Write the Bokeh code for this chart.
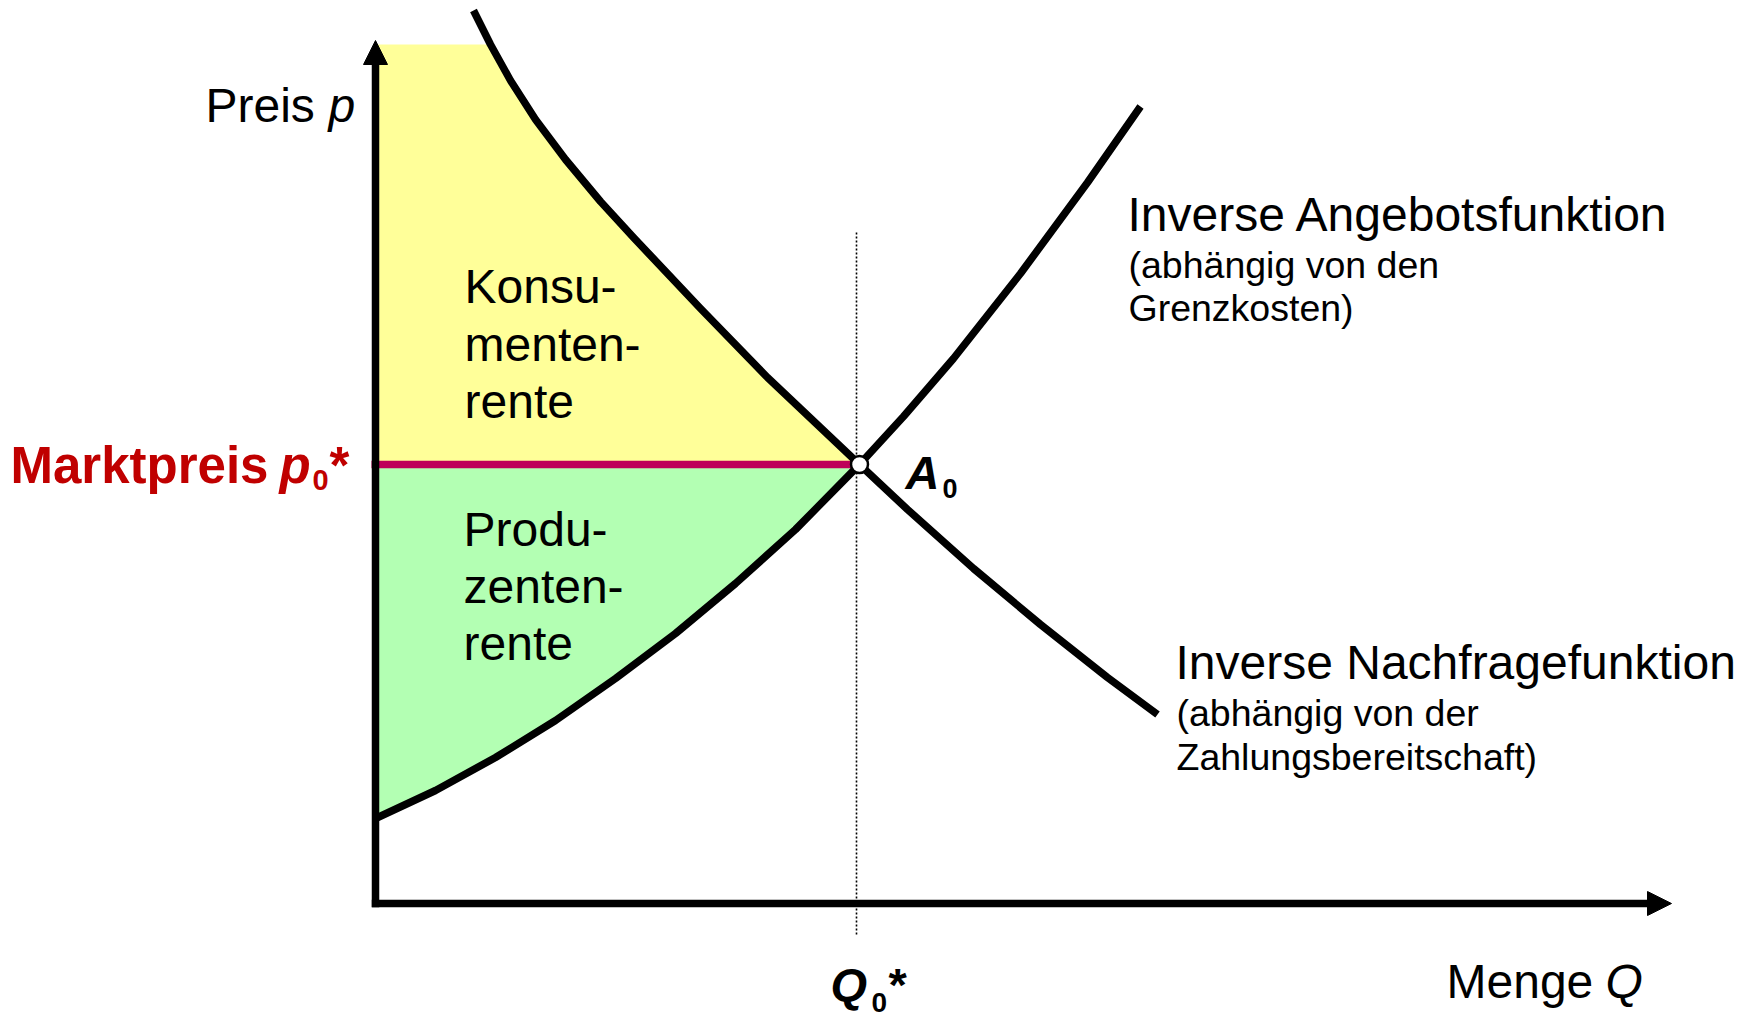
import numpy as np
from bokeh.plotting import figure
from bokeh.models import Label, Arrow, NormalHead
from bokeh.embed import file_html
from bokeh.resources import INLINE

# ---- data (Q = Menge, p = Preis) ----
demand_q = [0.98, 1.15, 1.35, 1.60, 1.90, 2.25, 2.58, 3.25, 3.92, 4.84, 5.32, 5.98, 6.65, 7.32, 7.82]
demand_p = [8.93, 8.59, 8.23, 7.84, 7.44, 7.02, 6.66, 5.95, 5.26, 4.39, 3.94, 3.35, 2.79, 2.26, 1.89]
supply_q = [0.00, 0.60, 1.20, 1.80, 2.40, 3.00, 3.60, 4.20, 4.84, 5.28, 5.78, 6.45, 7.12, 7.65]
supply_p = [0.85, 1.13, 1.46, 1.83, 2.25, 2.70, 3.20, 3.74, 4.39, 4.87, 5.45, 6.30, 7.21, 7.97]
eq_q = 4.84          # Q0*
eq_p = 4.39          # p0*
fill_top = 8.59      # top of consumer surplus area
axis_q_end = 12.96
axis_p_end = 8.63
dotted_top = 6.73
dotted_bottom = -0.31

FONT = "Liberation Sans"

fig = figure(width=1758, height=1017, x_range=(-3.75, 13.83), y_range=(-1.14, 9.03),
             output_backend="svg", toolbar_location=None, min_border=0)
fig.axis.visible = False
fig.grid.visible = False
fig.outline_line_color = None
fig.background_fill_color = "white"
fig.border_fill_color = "white"

dq = np.array(demand_q); dp = np.array(demand_p)
sq = np.array(supply_q); sp = np.array(supply_p)

# consumer surplus (yellow)
m = (dp <= fill_top) & (dq <= eq_q)
yq = np.concatenate([[0, 0], dq[m]])
yp = np.concatenate([[eq_p, fill_top], dp[m]])
fig.patch(yq, yp, fill_color="#FFFF99", line_color=None)

# producer surplus (green)
m2 = sq <= eq_q
gq = np.concatenate([[0], sq[m2]])
gp = np.concatenate([[eq_p], sp[m2]])
fig.patch(gq, gp, fill_color="#B3FFB3", line_color=None)

# dotted vertical at Q0*
fig.segment(x0=[eq_q - 0.03], y0=[dotted_bottom], x1=[eq_q - 0.03], y1=[dotted_top],
            line_color="black", line_width=1.6, line_dash="2 2")

# market price line
fig.segment(x0=[-0.04], y0=[eq_p], x1=[eq_q], y1=[eq_p],
            line_color="#BE0059", line_width=7.5)

# curves
fig.line(demand_q, demand_p, line_color="black", line_width=7.5, line_join="round")
fig.line(supply_q, supply_p, line_color="black", line_width=7.5, line_join="round")

# axes with arrows
fig.segment(x0=[0], y0=[-0.037], x1=[0], y1=[axis_p_end - 0.2], line_color="black", line_width=7.5)
fig.segment(x0=[-0.037], y0=[0], x1=[axis_q_end - 0.2], y1=[0], line_color="black", line_width=7.5)
fig.add_layout(Arrow(end=NormalHead(size=24, fill_color="black", line_color="black", line_width=1),
                     x_start=0, y_start=axis_p_end - 0.3, x_end=0, y_end=axis_p_end,
                     line_alpha=0))
fig.add_layout(Arrow(end=NormalHead(size=24, fill_color="black", line_color="black", line_width=1),
                     x_start=axis_q_end - 0.3, y_start=0, x_end=axis_q_end, y_end=0,
                     line_alpha=0))

# equilibrium point
fig.scatter([eq_q], [eq_p], size=17, fill_color="white", line_color="black", line_width=2.5)


def lab(x, y, text, size, style="normal", color="black", align="left"):
    # baseline correction (px -> data units, 100 px per unit)
    y_adj = y + (8 + 0.18 * size) / 100.0
    fig.add_layout(Label(x=x, y=y_adj, text=text, text_font=FONT, text_font_size=f"{size}px",
                         text_font_style=style, text_color=color, text_align=align,
                         text_baseline="alphabetic"))


# axis labels
lab(-1.70, 7.81, "Preis", 48)
lab(-0.47, 7.81, "p", 48, "italic")
lab(10.71, -0.95, "Menge", 48)
lab(12.30, -0.95, "Q", 48, "italic")

# market price
RED = "#C00000"
lab(-3.65, 4.21, "Marktpreis", 51, "bold", RED)
lab(-0.96, 4.21, "p", 51, "bold italic", RED)
lab(-0.63, 4.10, "0", 29, "bold", RED)
lab(-0.46, 4.21, "*", 51, "bold", RED)

# Q0*
lab(4.55, -0.97, "Q", 47, "bold italic")
lab(4.96, -1.12, "0", 28, "bold")
lab(5.13, -0.97, "*", 47, "bold")

# A0
lab(5.30, 4.15, "A", 47, "bold italic")
lab(5.67, 4.02, "0", 27, "bold")

# surplus areas
for t, yy in zip(["Konsu-", "menten-", "rente"], [6.00, 5.42, 4.85]):
    lab(0.89, yy, t, 48)
for t, yy in zip(["Produ-", "zenten-", "rente"], [3.57, 3.00, 2.43]):
    lab(0.88, yy, t, 48)

# curve descriptions
lab(7.52, 6.72, "Inverse Angebotsfunktion", 48)
lab(7.53, 6.24, "(abhängig von den", 37.5)
lab(7.53, 5.81, "Grenzkosten)", 37.5)
lab(8.00, 2.24, "Inverse Nachfragefunktion", 48)
lab(8.01, 1.76, "(abhängig von der", 37.5)
lab(8.01, 1.32, "Zahlungsbereitschaft)", 37.5)

open("out.html", "w").write(file_html(fig, INLINE))
